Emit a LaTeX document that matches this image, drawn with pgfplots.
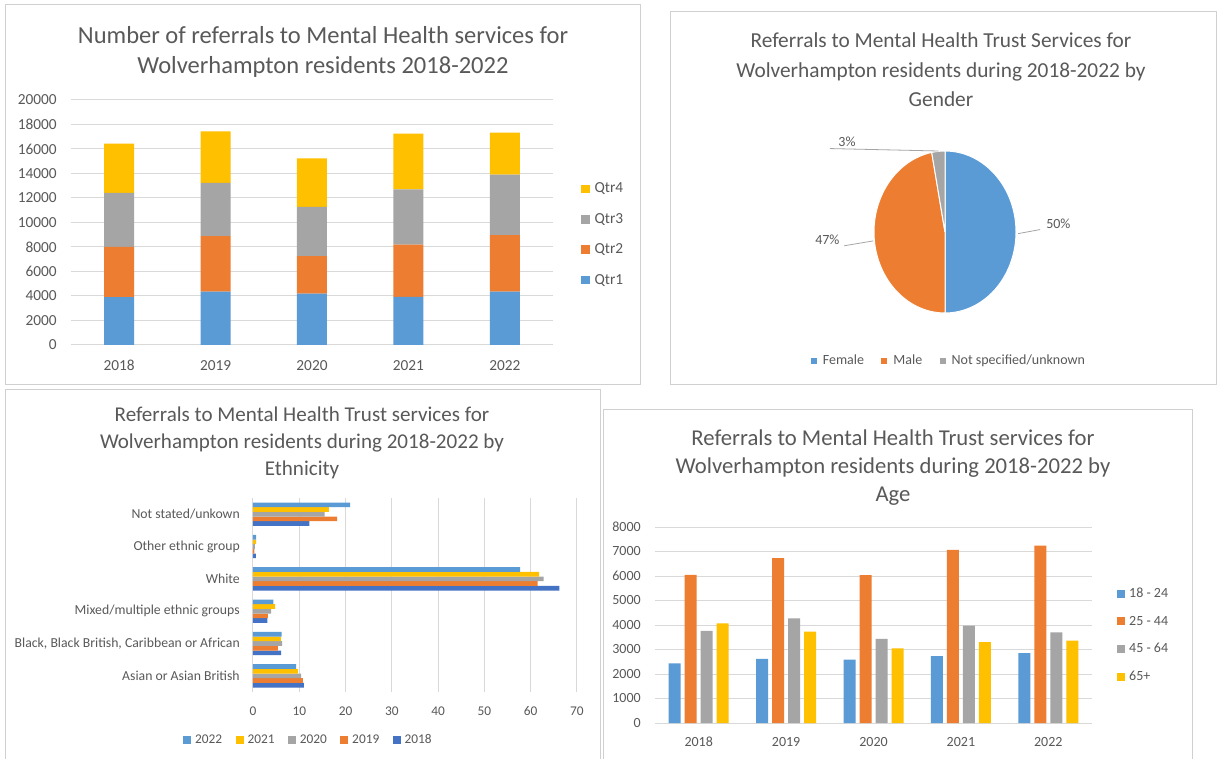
\documentclass[border=0pt]{standalone}
\usepackage{pgfplots}
\pgfplotsset{compat=1.18}
\usepackage{fontspec}
\setmainfont{Carlito}

\definecolor{cblue}{HTML}{5B9BD5}
\definecolor{corange}{HTML}{ED7D31}
\definecolor{cgray}{HTML}{A5A5A5}
\definecolor{cyellow}{HTML}{FFC000}
\definecolor{cdblue}{HTML}{4472C4}
\definecolor{tc}{HTML}{595959}
\definecolor{gridc}{HTML}{D9D9D9}
\definecolor{framec}{HTML}{D0D0D0}

\pgfplotsset{
  xl/.style={every axis plot post/.append style={legend image code/.code={\fill[##1,/tikz/.cd,draw=none] (0pt,-3pt) rectangle (6pt,3pt);}}},
  excel/.style={
    scale only axis, axis line style={draw=none}, major tick length=0pt,
    grid style={gridc, line width=0.75pt},
    /pgf/number format/assume math mode=true,
    /pgf/number format/set thousands separator={},
    scaled ticks=false,
    legend cell align=left,
  },
}
% pie shares (%): female, male, not specified
\def\pF{50}\def\pM{47}\def\pN{3}

\begin{document}
\begin{tikzpicture}
\useasboundingbox[fill=white] (0pt,0pt) rectangle (913.5pt,568.5pt);
% panel frames
\draw[framec, line width=0.75pt] (3.75pt,564.75pt) rectangle (480pt,279.75pt);
\draw[framec, line width=0.75pt] (502.5pt,559.5pt) rectangle (912pt,279.75pt);
\draw[framec, line width=0.75pt] (3.75pt,-5pt) rectangle (450pt,276pt);
\draw[framec, line width=0.75pt] (452.25pt,-5pt) rectangle (894pt,261pt);

% titles
\node[text=tc, align=center, font=\fontsize{18.4}{22.5}\selectfont] at (242.25pt,529.5pt)
  {Number of referrals to Mental Health services for\\Wolverhampton residents 2018-2022};
\node[text=tc, align=center, font=\fontsize{16}{22}\selectfont] at (705.75pt,516pt)
  {Referrals to Mental Health Trust Services for\\Wolverhampton residents during 2018-2022 by\\Gender};
\node[text=tc, align=center, font=\fontsize{15.8}{20}\selectfont] at (226.5pt,236.25pt)
  {Referrals to Mental Health Trust services for\\Wolverhampton residents during 2018-2022 by\\Ethnicity};
\node[text=tc, align=center, font=\fontsize{17}{21}\selectfont] at (669.75pt,217.5pt)
  {Referrals to Mental Health Trust services for\\Wolverhampton residents during 2018-2022 by\\Age};

% 1: stacked quarters
\begin{axis}[excel, ybar stacked,
  every axis plot post/.append style={legend image code/.code={\fill[##1,/tikz/.cd,draw=none] (0pt,-3.25pt) rectangle (6.5pt,3.25pt);}},
  at={(53.25pt,309.75pt)}, anchor=south west, width=361.5pt, height=183.75pt,
  bar width=22.5pt, xmin=-0.5, xmax=4.5, ymin=0, ymax=20000,
  xtick={0,...,4}, xticklabels={2018,2019,2020,2021,2022},
  ytick={0,2000,...,20000}, ymajorgrids,
  tick label style={font=\fontsize{11.5}{13}\selectfont, text=tc},
  xticklabel style={anchor=base, yshift=-19.5pt},
  yticklabel style={anchor=east, inner sep=0pt, xshift=-10.5pt},
  reverse legend,
  legend style={at={(1.058,0.673)}, anchor=north west, draw=none, fill=none,
    font=\fontsize{11.5}{13}\selectfont, text=tc, row sep=9.8pt, inner sep=0pt,
    /tikz/every odd column/.append style={column sep=1.5pt}},
]
\addplot[fill=cblue, draw=none] coordinates {(0,3900) (1,4360) (2,4200) (3,3920) (4,4360)};
\addplot[fill=corange, draw=none] coordinates {(0,4110) (1,4520) (2,3050) (3,4280) (4,4600)};
\addplot[fill=cgray, draw=none] coordinates {(0,4410) (1,4360) (2,4030) (3,4500) (4,4940)};
\addplot[fill=cyellow, draw=none] coordinates {(0,4010) (1,4200) (2,3950) (3,4550) (4,3430)};
\legend{Qtr1,Qtr2,Qtr3,Qtr4}
\end{axis}

% 2: gender pie
\begin{axis}[hide axis, scale only axis, clip=false,
  at={(708.75pt,394.5pt)}, anchor=center, width=106.5pt, height=121.5pt,
  xmin=-1, xmax=1, ymin=-1, ymax=1,
  legend columns=3,
  legend style={at={(0.53,-0.296)}, anchor=center, draw=none, fill=none,
    font=\fontsize{10.5}{12}\selectfont, text=tc, inner sep=0pt,
    /tikz/every odd column/.append style={column sep=2.5pt},
    /tikz/every even column/.append style={column sep=11pt}},
  legend image code/.code={\fill[#1,draw=none] (0pt,-2.25pt) rectangle (4.5pt,2.25pt);},
]
\addlegendimage{fill=cblue,draw=none}\addlegendentry{Female}
\addlegendimage{fill=corange,draw=none}\addlegendentry{Male}
\addlegendimage{fill=cgray,draw=none}\addlegendentry{Not specified/unknown}
\fill[cblue, draw=white, line width=0.75pt] (axis cs:0,0) -- (axis cs:0,1)
  arc[start angle=90, end angle={90-3.6*\pF}, x radius=53.25pt, y radius=60.75pt] -- cycle;
\fill[corange, draw=white, line width=0.75pt] (axis cs:0,0) -- (axis cs:{cos(90-3.6*\pF)},{sin(90-3.6*\pF)})
  arc[start angle={90-3.6*\pF}, end angle={90-3.6*(\pF+\pM)}, x radius=53.25pt, y radius=60.75pt] -- cycle;
\fill[cgray, draw=white, line width=0.75pt] (axis cs:0,0) -- (axis cs:{cos(90-3.6*(\pF+\pM))},{sin(90-3.6*(\pF+\pM))})
  arc[start angle={90-3.6*(\pF+\pM)}, end angle={90-3.6*(\pF+\pM+\pN)}, x radius=53.25pt, y radius=60.75pt] -- cycle;
\draw[cgray, line width=0.6pt] (axis cs:1.03,-0.02) -- (axis cs:1.34,0.03);
\node[text=tc, font=\fontsize{10.5}{12}\selectfont, anchor=west] at (axis cs:1.36,0.1) {50\%};
\draw[cgray, line width=0.6pt] (axis cs:-1.01,-0.11) -- (axis cs:-1.42,-0.17);
\node[text=tc, font=\fontsize{10.5}{12}\selectfont, anchor=east] at (axis cs:-1.42,-0.1) {47\%};
\draw[cgray, line width=0.6pt] (axis cs:-0.09,1.0) -- (axis cs:-1.62,1.03);
\node[text=tc, font=\fontsize{10.5}{12}\selectfont] at (axis cs:-1.38,1.11) {3\%};
\end{axis}

% 3: ethnicity
\begin{axis}[excel, xbar=0pt, xl,
  at={(189.75pt,49.5pt)}, anchor=south west, width=243pt, height=145.5pt,
  bar width=3.5pt, xmin=0, xmax=70, ymin=-0.5, ymax=5.5,
  xtick={0,10,...,70}, xmajorgrids,
  ytick={0,...,5},
  yticklabels={Asian or Asian British, {Black, Black British, Caribbean or African}, Mixed/multiple ethnic groups, White, Other ethnic group, Not stated/unkown},
  tick label style={font=\fontsize{10}{12}\selectfont, text=tc},
  yticklabel style={font=\fontsize{10.3}{12}\selectfont, anchor=east, inner sep=0pt, xshift=-9.75pt},
  xticklabel style={anchor=base, yshift=-17.4pt},
  reverse legend, legend columns=5,
  legend style={at={(0.172,-0.247)}, anchor=center, draw=none, fill=none,
    font=\fontsize{10}{12}\selectfont, text=tc, inner sep=0pt,
    /tikz/every odd column/.append style={column sep=1pt},
    /tikz/every even column/.append style={column sep=8pt}},
]
\addplot[fill=cdblue, draw=none] coordinates {(11.0,0) (6.1,1) (3.1,2) (66.2,3) (0.6,4) (12.2,5)};
\addplot[fill=corange, draw=none] coordinates {(10.8,0) (5.4,1) (3.2,2) (61.5,3) (0.3,4) (18.2,5)};
\addplot[fill=cgray, draw=none] coordinates {(10.4,0) (6.3,1) (3.9,2) (62.8,3) (0.4,4) (15.5,5)};
\addplot[fill=cyellow, draw=none] coordinates {(9.7,0) (6.0,1) (4.8,2) (61.8,3) (0.7,4) (16.4,5)};
\addplot[fill=cblue, draw=none] coordinates {(9.3,0) (6.2,1) (4.4,2) (57.7,3) (0.7,4) (21.0,5)};
\legend{2018,2019,2020,2021,2022}
\end{axis}

% 4: age
\begin{axis}[excel, ybar=3pt, xl,
  at={(491.25pt,26.25pt)}, anchor=south west, width=327.75pt, height=147pt,
  bar width=9pt, xmin=-0.5, xmax=4.5, ymin=0, ymax=8000,
  xtick={0,...,4}, xticklabels={2018,2019,2020,2021,2022},
  ytick={0,1000,...,8000}, ymajorgrids,
  tick label style={font=\fontsize{10.5}{12}\selectfont, text=tc},
  xticklabel style={anchor=base, yshift=-17.6pt},
  yticklabel style={anchor=east, inner sep=0pt, xshift=-10.5pt},
  legend style={at={(1.057,0.704)}, anchor=north west, draw=none, fill=none,
    font=\fontsize{10.5}{12}\selectfont, text=tc, row sep=8.3pt, inner sep=0pt,
    /tikz/every odd column/.append style={column sep=1pt}},
]
\addplot[fill=cblue, draw=none] coordinates {(0,2430) (1,2620) (2,2590) (3,2730) (4,2850)};
\addplot[fill=corange, draw=none] coordinates {(0,6050) (1,6730) (2,6040) (3,7070) (4,7240)};
\addplot[fill=cgray, draw=none] coordinates {(0,3760) (1,4270) (2,3430) (3,3970) (4,3700)};
\addplot[fill=cyellow, draw=none] coordinates {(0,4070) (1,3730) (2,3050) (3,3300) (4,3360)};
\legend{18 - 24,25 - 44,45 - 64,65+}
\end{axis}
\end{tikzpicture}
\end{document}
